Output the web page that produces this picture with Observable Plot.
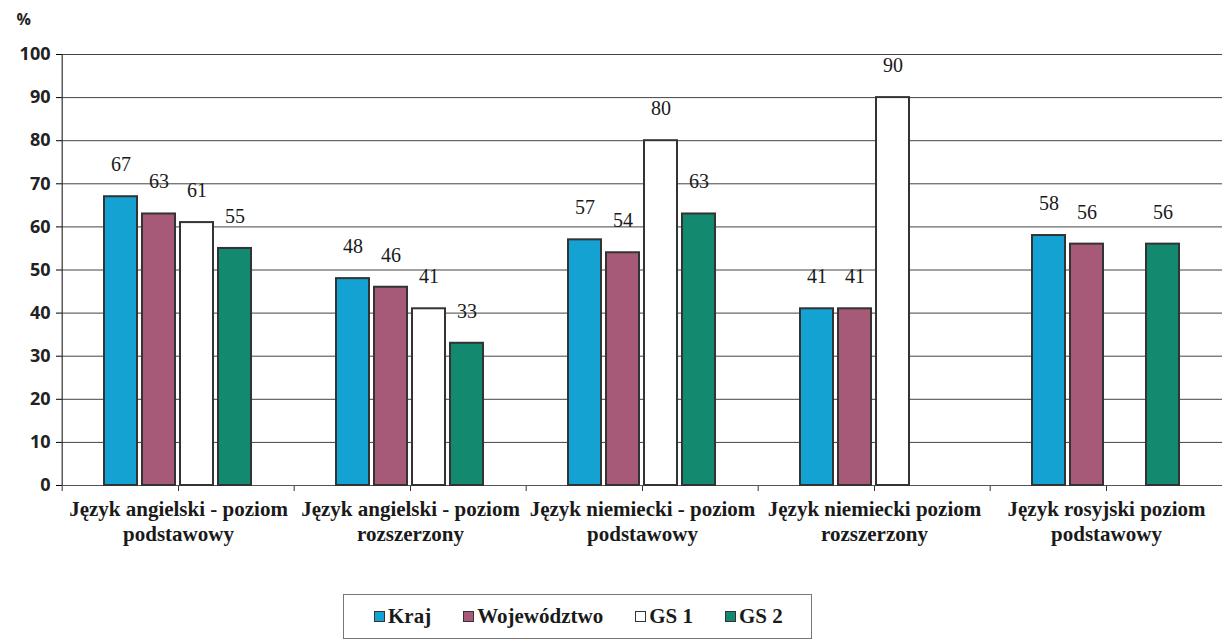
<!DOCTYPE html>
<html><head><meta charset="utf-8">
<script src="https://cdn.jsdelivr.net/npm/d3@7"></script>
<script src="https://cdn.jsdelivr.net/npm/@observablehq/plot@0.6"></script>
<style>
body{margin:0;background:#fff;}
#chart svg{display:block;}
#legend{margin-left:343px;margin-top:14px;width:469px;height:45px;border:1.5px solid #777;display:flex;align-items:center;padding-left:30px;box-sizing:border-box;font-family:"Liberation Serif","Times New Roman",Times,serif;font-weight:bold;font-size:21px;color:#1a1a1a;white-space:nowrap;overflow:visible;}
#legend .item{display:flex;align-items:center;margin-right:32px;flex-shrink:0;white-space:nowrap;}
#legend .item:last-child{margin-right:0;}
#legend .sw{width:9px;height:9px;border:1.5px solid #333;margin-right:3px;flex-shrink:0;}
</style>
</head><body>
<div id="chart"></div>
<div id="legend"></div>
<script>
const categories = [
  "Język angielski - poziom\npodstawowy",
  "Język angielski - poziom\nrozszerzony",
  "Język niemiecki - poziom\npodstawowy",
  "Język niemiecki poziom\nrozszerzony",
  "Język rosyjski poziom\npodstawowy"
];
const series = ["Kraj", "Województwo", "GS 1", "GS 2"];
const kraj        = [67, 48, 57, 41, 58];
const wojewodztwo = [63, 46, 54, 41, 56];
const gs1         = [61, 41, 80, 90, null];
const gs2         = [55, 33, 63, null, 56];
const colors = ["#14a2d3", "#a65a77", "#ffffff", "#13896f"];
const yTicks = [0, 10, 20, 30, 40, 50, 60, 70, 80, 90, 100];

const SERIF = "'Liberation Serif', 'Times New Roman', Times, serif";

const valuesBySeries = [kraj, wojewodztwo, gs1, gs2];
const rows = [];
categories.forEach((c, i) => {
  series.forEach((s, j) => {
    const v = valuesBySeries[j][i];
    if (v != null) rows.push({cat: c, series: s, value: v});
  });
});

const W = 1223, H = 580, ML = 60, MR = 0;
const facetW = (W - ML - MR) / categories.length;

const chart = Plot.plot({
  width: W, height: H,
  marginLeft: ML, marginRight: MR, marginTop: 54, marginBottom: 95,
  fx: {domain: categories, padding: 0, label: null},
  x: {domain: series, paddingInner: 0.13, paddingOuter: 1.05, axis: null},
  y: {domain: [0, 100], label: null},
  color: {domain: series, range: colors},
  marks: [
    Plot.gridY(yTicks, {stroke: "#444", strokeOpacity: 1, strokeWidth: 1}),
    Plot.axisY(yTicks, {tickSize: 6, tickPadding: 6, fontSize: 18, fontWeight: "bold", fontFamily: "Open Sans", fill: "#222", label: null}),
    Plot.text(["%"], {fx: () => categories[0], frameAnchor: "top-left", dx: -46, dy: -41, lineAnchor: "top", textAnchor: "start", fontSize: 16, fontWeight: "bold", fontFamily: "Open Sans", fill: "#222"}),
    Plot.ruleX([categories[0]], {fx: d => d, x: null, y1: 0, y2: 100, dx: -facetW / 2, stroke: "#333", strokeWidth: 1.2}),
    Plot.ruleX(categories, {fx: d => d, x: null, y1: 0, y2: -1.4, stroke: "#333"}),
    Plot.ruleX(categories, {fx: d => d, x: null, y1: 0, y2: -1.4, dx: -facetW / 2, stroke: "#333"}),
    Plot.ruleY([0], {stroke: "#555", strokeWidth: 1.2}),
    Plot.barY(rows, {fx: "cat", x: "series", y: "value", fill: "series", stroke: "#333", strokeWidth: 2}),
    Plot.text(rows, {fx: "cat", x: "series", y: "value", text: d => String(d.value), dy: -32, fontSize: 20, fontFamily: SERIF, fill: "#1a1a1a"}),
    Plot.axisFx({anchor: "bottom", tickSize: 0, tickPadding: 13, fontSize: 21, fontWeight: "bold", fontFamily: SERIF, fill: "#1a1a1a", lineHeight: 1.19, label: null})
  ]
});
document.getElementById("chart").appendChild(chart);

const legend = document.getElementById("legend");
series.forEach((s, j) => {
  const item = document.createElement("div");
  item.className = "item";
  const sw = document.createElement("div");
  sw.className = "sw";
  sw.style.background = colors[j];
  const t = document.createElement("span");
  t.textContent = s;
  item.appendChild(sw); item.appendChild(t);
  legend.appendChild(item);
});
</script>
</body></html>
